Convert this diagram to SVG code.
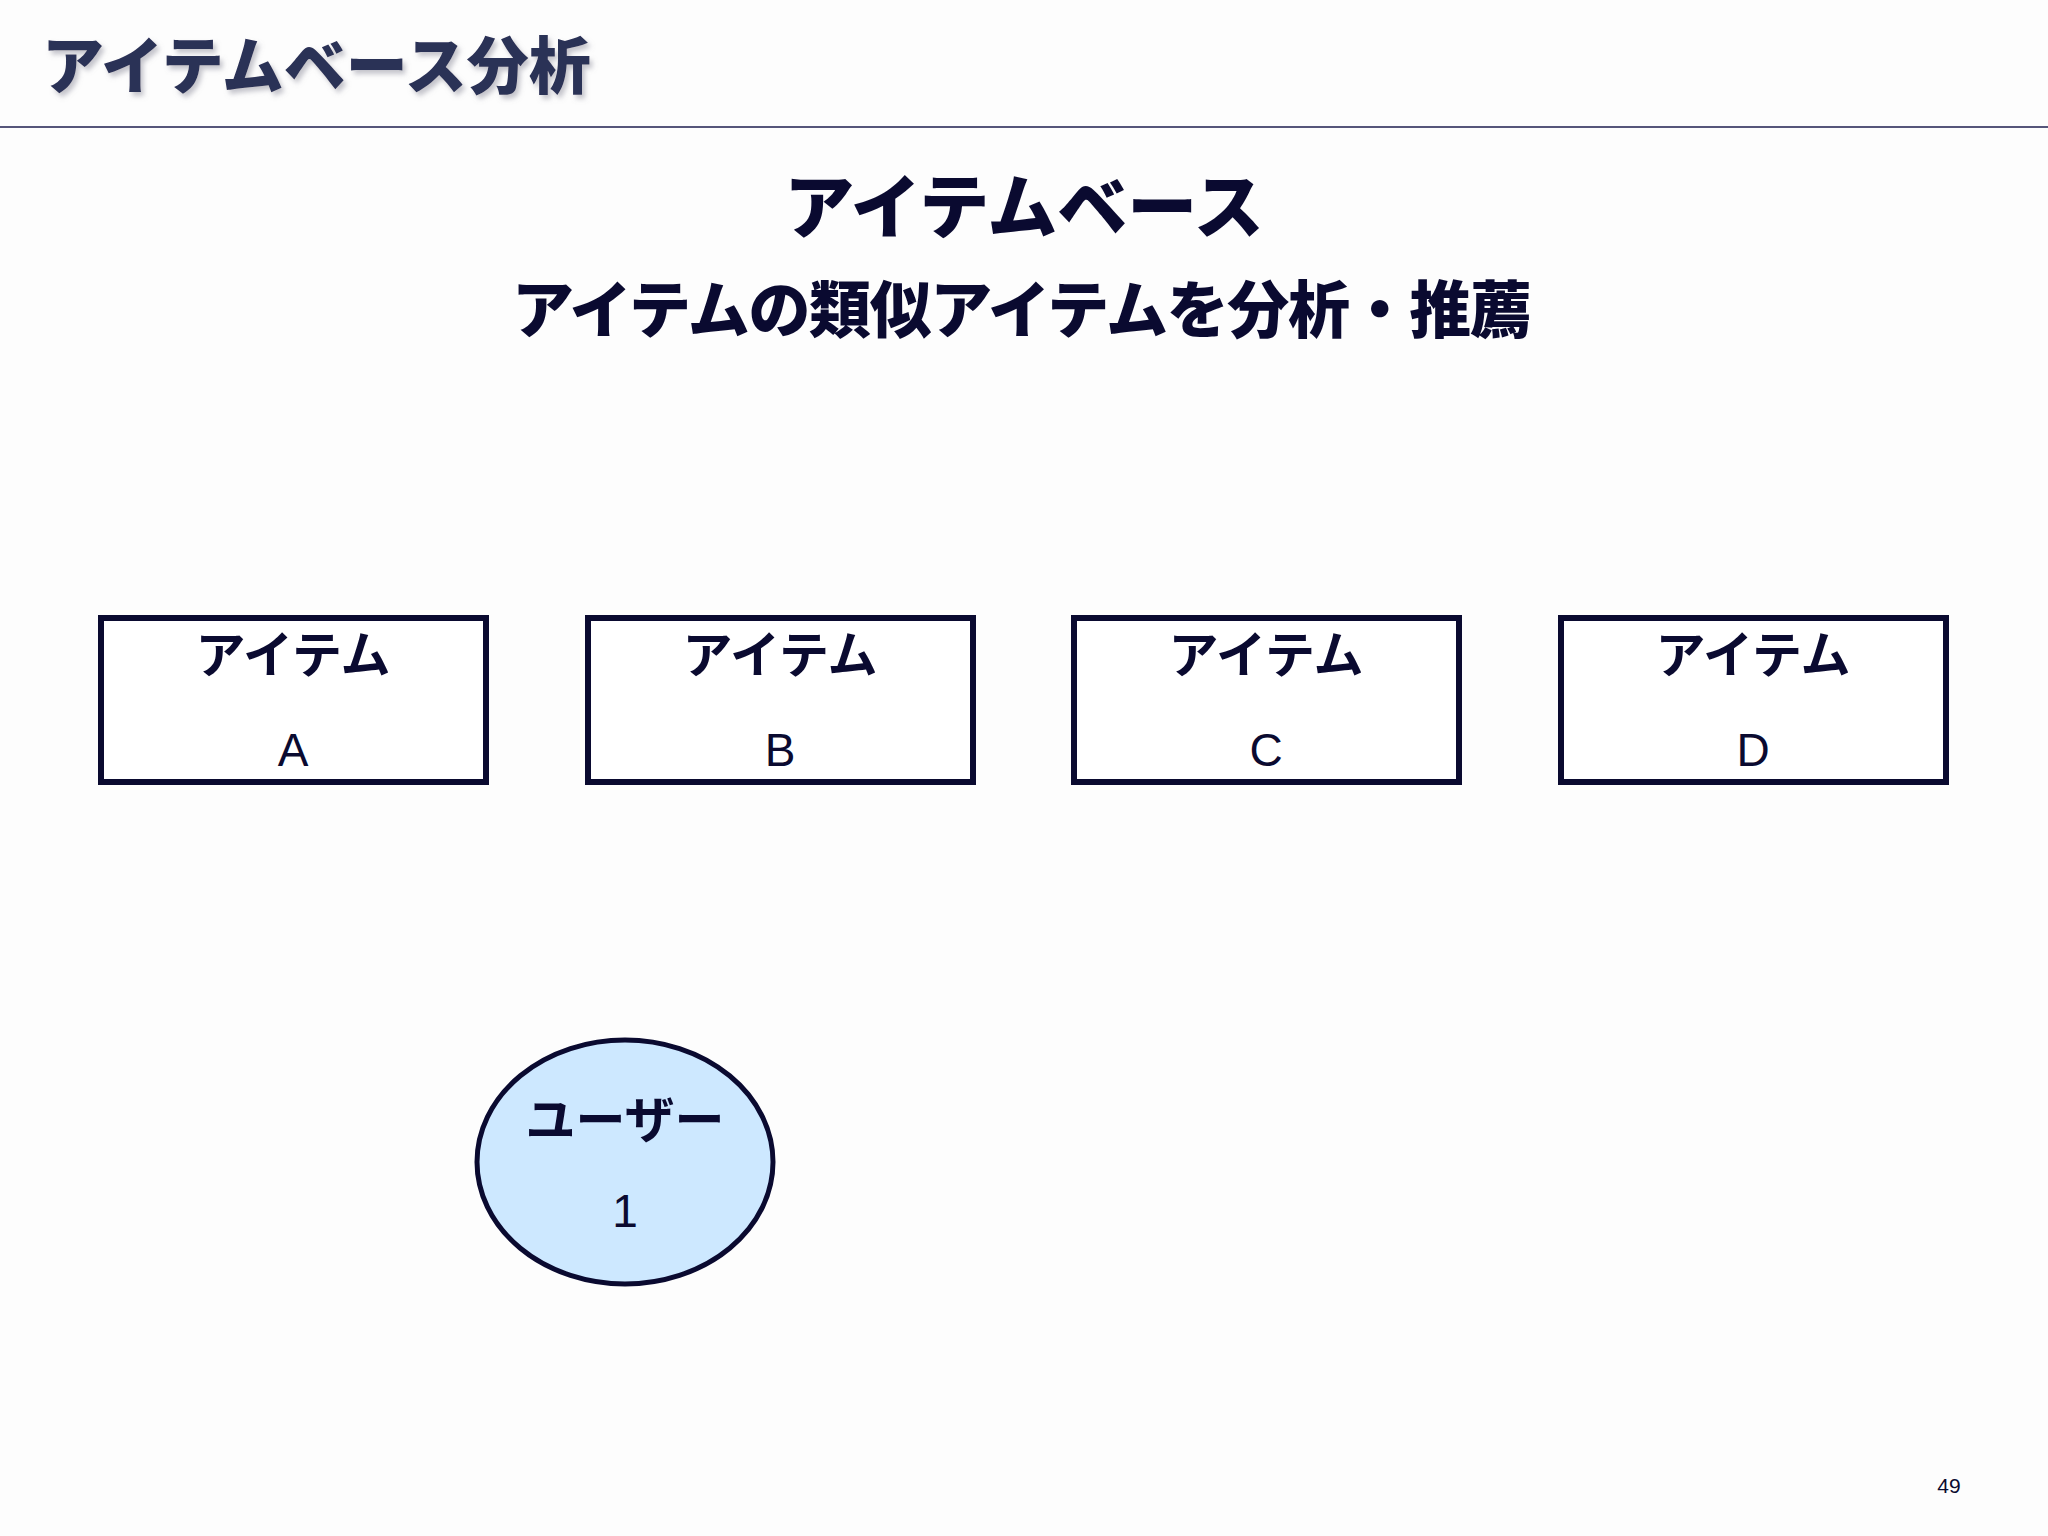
<svg xmlns="http://www.w3.org/2000/svg" width="2048" height="1536" viewBox="0 0 2048 1536">
<defs>
<filter id="shadow" x="-5%" y="-20%" width="110%" height="140%">
<feDropShadow dx="3" dy="4" stdDeviation="2.5" flood-color="#8a8a99" flood-opacity="0.5"/>
</filter>
</defs>
<style>
.jp{font-family:"Noto Sans CJK JP","Noto Sans",sans-serif;}
.title{font-size:62px;font-weight:900;fill:#2c3157;}
.head{font-size:70px;font-weight:900;fill:#0a0a30;text-anchor:middle;}
.sub{font-size:62px;font-weight:900;fill:#0a0a30;text-anchor:middle;}
.box{fill:#ffffff;stroke:#0a0a30;stroke-width:6;}
.lbl{font-size:50px;font-weight:600;fill:#0a0a30;text-anchor:middle;}
.let{font-family:"Liberation Sans",Arial,sans-serif;font-size:46px;fill:#0a0a30;text-anchor:middle;}
.user{fill:#cde8ff;stroke:#0a0a30;stroke-width:5;}
.ulbl{font-size:50px;font-weight:700;fill:#0a0a30;text-anchor:middle;}
</style>
<rect width="2048" height="1536" fill="#fdfdfd"/>
<text class="jp title" x="42" y="89" filter="url(#shadow)">アイテムベース分析</text>
<line x1="0" y1="127" x2="2048" y2="127" stroke="#55557a" stroke-width="2"/>
<text class="jp head" x="1024" y="233">アイテムベース</text>
<text class="jp sub" x="1022" y="333" textLength="1020" lengthAdjust="spacing">アイテムの類似アイテムを分析・推薦</text>
<g id="itemA">
<rect class="box" x="101" y="618" width="385" height="164"/>
<text class="jp lbl" x="293" y="673">アイテム</text>
<text class="let" x="293" y="766">A</text>
</g>
<g id="itemB">
<rect class="box" x="588" y="618" width="385" height="164"/>
<text class="jp lbl" x="780" y="673">アイテム</text>
<text class="let" x="780" y="766">B</text>
</g>
<g id="itemC">
<rect class="box" x="1074" y="618" width="385" height="164"/>
<text class="jp lbl" x="1266" y="673">アイテム</text>
<text class="let" x="1266" y="766">C</text>
</g>
<g id="itemD">
<rect class="box" x="1561" y="618" width="385" height="164"/>
<text class="jp lbl" x="1753" y="673">アイテム</text>
<text class="let" x="1753" y="766">D</text>
</g>
<g id="user1">
<ellipse class="user" cx="625" cy="1162" rx="148" ry="122"/>
<text class="jp ulbl" x="625" y="1138">ユーザー</text>
<text class="let" x="625" y="1227">1</text>
</g>
<g id="connectors"></g>
<text x="1949" y="1493" font-family="Liberation Sans,Arial,sans-serif" font-size="21" fill="#0a0a30" text-anchor="middle">49</text>
</svg>
